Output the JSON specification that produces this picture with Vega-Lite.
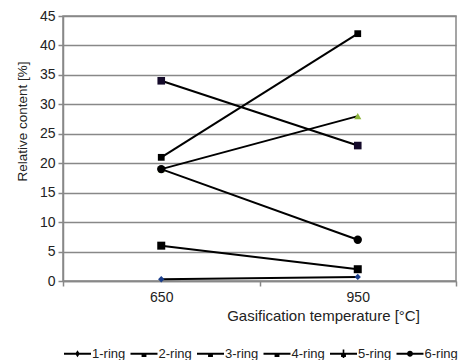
{
  "$schema": "https://vega.github.io/schema/vega-lite/v6.json",
  "width": 393,
  "height": 265,
  "autosize": {"type": "none"},
  "padding": {"left": 63, "top": 16, "right": 12, "bottom": 79},
  "background": "white",
  "config": {
    "font": "Liberation Sans",
    "view": {"stroke": "#888888", "strokeWidth": 1.5},
    "axis": {"labelFont": "Liberation Sans", "titleFont": "Liberation Sans", "labelColor": "#222222", "titleColor": "#222222", "titleFontWeight": "normal", "domainColor": "#888888", "tickColor": "#888888", "domainWidth": 1.5, "tickWidth": 1.5, "tickSize": 5, "labelFontSize": 14, "titleFontSize": 14}
  },
  "data": {
    "values": [
      {"ring": "1-ring", "temp": "650", "value": 0.3},
      {"ring": "1-ring", "temp": "950", "value": 0.7},
      {"ring": "2-ring", "temp": "650", "value": 21},
      {"ring": "2-ring", "temp": "950", "value": 42},
      {"ring": "3-ring", "temp": "650", "value": 19},
      {"ring": "3-ring", "temp": "950", "value": 28},
      {"ring": "4-ring", "temp": "650", "value": 34},
      {"ring": "4-ring", "temp": "950", "value": 23},
      {"ring": "5-ring", "temp": "650", "value": 6},
      {"ring": "5-ring", "temp": "950", "value": 2},
      {"ring": "6-ring", "temp": "650", "value": 19},
      {"ring": "6-ring", "temp": "950", "value": 7}
    ]
  },
  "encoding": {
    "x": {
      "field": "temp", "type": "ordinal",
      "scale": {"type": "band", "paddingInner": 0, "paddingOuter": 0},
      "axis": {"labelAngle": 0, "tickBand": "extent", "title": "Gasification temperature [°C]", "titleFontSize": 15, "titleX": 260, "titleAlign": "center", "labelPadding": 4, "titlePadding": 4}
    },
    "y": {
      "field": "value", "type": "quantitative",
      "scale": {"domain": [0, 45], "nice": false},
      "axis": {"values": [0, 5, 10, 15, 20, 25, 30, 35, 40, 45], "grid": true, "gridColor": "#888888", "gridWidth": 1.5, "title": "Relative content [%]", "titleFontSize": 13.5, "titleY": 105, "titleAlign": "center", "labelPadding": 3, "titlePadding": 10}
    }
  },
  "layer": [
    {
      "mark": {"type": "line", "color": "black", "strokeWidth": 2},
      "encoding": {"detail": {"field": "ring"}}
    },
    {
      "mark": {"type": "point", "filled": true, "opacity": 1},
      "encoding": {
        "shape": {"field": "ring", "scale": {"domain": ["1-ring", "2-ring", "3-ring", "4-ring", "5-ring", "6-ring"], "range": ["diamond", "square", "triangle-up", "square", "square", "circle"]}, "legend": null},
        "color": {"field": "ring", "scale": {"domain": ["1-ring", "2-ring", "3-ring", "4-ring", "5-ring", "6-ring"], "range": ["#1c3f8c", "#000000", "#8db63c", "#140a2a", "#000000", "#000000"]}, "legend": null},
        "size": {"field": "ring", "scale": {"domain": ["1-ring", "2-ring", "3-ring", "4-ring", "5-ring", "6-ring"], "range": [40, 70, 40, 70, 70, 60]}, "legend": null}
      }
    },
    {
      "mark": {"type": "point", "filled": true, "opacity": 0, "color": "black"},
      "encoding": {
        "shape": {
          "field": "ring",
          "scale": {"domain": ["1-ring", "2-ring", "3-ring", "4-ring", "5-ring", "6-ring"], "range": [
            "M-1,-0.07H1V0.07H-1Z M0,-0.26L0.17,0L0,0.26L-0.17,0Z",
            "M-1,-0.07H1V0.07H-1Z M-0.18,0H0.18V0.24H-0.18Z",
            "M-1,-0.07H1V0.07H-1Z M-0.18,0H0.18V0.24H-0.18Z",
            "M-1,-0.07H1V0.07H-1Z M-0.18,0H0.18V0.24H-0.18Z",
            "M-1,-0.07H1V0.07H-1Z M-0.06,-0.32H0.06V0.32H-0.06Z M-0.18,-0.05H0.18V0.24H-0.18Z",
            "M-1,-0.07H1V0.07H-1Z M-0.22,0A0.22,0.22,0,1,1,0.22,0A0.22,0.22,0,1,1,-0.22,0Z"
          ]},
          "legend": {
            "title": null, "orient": "none", "legendX": 1, "legendY": 324, "direction": "horizontal", "columns": 6,
            "symbolSize": 729, "symbolOpacity": 1, "symbolFillColor": "black", "symbolStrokeColor": "black", "symbolStrokeWidth": 0,
            "labelFont": "Liberation Sans", "labelFontSize": 13, "labelColor": "#222222", "labelOffset": 1, "columnPadding": 4.5
          }
        }
      }
    }
  ],
  "resolve": {"scale": {"shape": "independent"}}
}
